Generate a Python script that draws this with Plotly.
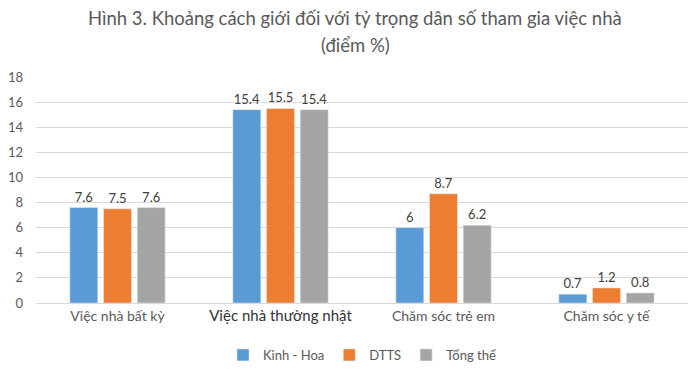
import plotly.graph_objects as go

categories = ["Việc nhà bất kỳ", "Việc nhà thường nhật", "Chăm sóc trẻ em", "Chăm sóc y tế"]
tick_labels = ["Việc nhà bất kỳ",
               "<span style='font-size:15px;color:#333333'>Việc nhà thường nhật</span>",
               "Chăm sóc trẻ em", "Chăm sóc y tế"]
kinh_hoa = [7.6, 15.4, 6, 0.7]
dtts = [7.5, 15.5, 8.7, 1.2]
tong_the = [7.6, 15.4, 6.2, 0.8]
title_lines = ["Hình 3. Khoảng cách giới đối với tỷ trọng dân số tham gia việc nhà", "(điểm %)"]

series = [("Kinh - Hoa", kinh_hoa, "#5B9BD5"),
          ("DTTS", dtts, "#ED7D31"),
          ("Tổng thể", tong_the, "#A5A5A5")]

fig = go.Figure()
for name, vals, col in series:
    fig.add_trace(go.Bar(
        x=categories, y=vals, name=name, marker_color=col,
        text=[f"{v:g}" for v in vals], textposition="outside",
        textfont=dict(color="#404040", size=13), cliponaxis=False,
    ))

for txt, yy in zip(title_lines, [1.261, 1.1416]):
    fig.add_annotation(text=txt, xref="paper", yref="paper", x=0.49, y=yy,
                       xanchor="center", yanchor="middle", showarrow=False,
                       font=dict(size=18.5, color="#595959"))

fig.update_layout(
    width=700, height=376,
    margin=dict(l=36, r=12, t=77, b=73, autoexpand=False),
    paper_bgcolor="white", plot_bgcolor="white",
    font=dict(family="Lato, Open Sans, sans-serif", color="#595959", size=14),
    barmode="group", bargap=0.38, bargroupgap=0.17,
    showlegend=True,
    legend=dict(orientation="h", x=0.5, xanchor="center", y=-0.23, yanchor="middle",
                font=dict(size=13, color="#595959"), traceorder="normal",
                itemwidth=30, entrywidthmode="pixels"),
    xaxis=dict(tickmode="array", tickvals=categories, ticktext=tick_labels,
               showline=True, linecolor="#D9D9D9", ticks="", tickfont=dict(size=14)),
    yaxis=dict(range=[0, 18], dtick=2, showgrid=True, gridcolor="#D9D9D9",
               zeroline=False, ticks="", tickfont=dict(size=13), ticklabelstandoff=12),
)

fig.write_html("out.html", config={"displayModeBar": False},
               post_script="document.body.style.margin='0px';document.body.style.overflow='hidden';")
